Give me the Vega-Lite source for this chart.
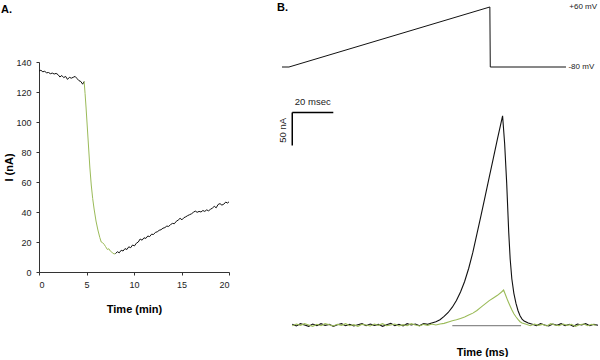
{
  "$schema": "https://vega.github.io/schema/vega-lite/v6.json",
  "background": "white",
  "padding": {"left": 1, "top": 2, "right": 0, "bottom": 0},
  "spacing": 46,
  "config": {
    "view": {"stroke": null},
    "font": "Liberation Sans",
    "axis": {
      "grid": false,
      "domainColor": "#333333",
      "tickColor": "#333333",
      "tickSize": 3,
      "labelFont": "Liberation Sans Narrow, Liberation Sans, Arial",
      "labelFontSize": 9,
      "labelColor": "#222222",
      "titleFont": "Liberation Sans, Arial",
      "titleFontSize": 11,
      "titleFontWeight": "bold",
      "titleColor": "#000000"
    }
  },
  "datasets": {
    "panelA": [
      {"t":0,"v":134,"seg":"pre"},{"t":0.2,"v":134.5,"seg":"pre"},{"t":0.4,"v":133.5,"seg":"pre"},{"t":0.6,"v":133.8,"seg":"pre"},{"t":0.8,"v":132.8,"seg":"pre"},{"t":1.0,"v":133,"seg":"pre"},{"t":1.2,"v":132.2,"seg":"pre"},{"t":1.4,"v":132.6,"seg":"pre"},{"t":1.6,"v":132,"seg":"pre"},{"t":1.8,"v":132.4,"seg":"pre"},{"t":2.0,"v":131.6,"seg":"pre"},{"t":2.2,"v":130,"seg":"pre"},{"t":2.4,"v":131,"seg":"pre"},{"t":2.6,"v":129.6,"seg":"pre"},{"t":2.8,"v":130.4,"seg":"pre"},{"t":3.0,"v":128.4,"seg":"pre"},{"t":3.2,"v":129.8,"seg":"pre"},{"t":3.4,"v":129.2,"seg":"pre"},{"t":3.6,"v":129.8,"seg":"pre"},{"t":3.8,"v":130.4,"seg":"pre"},{"t":4.0,"v":129,"seg":"pre"},{"t":4.2,"v":127.6,"seg":"pre"},{"t":4.4,"v":127,"seg":"pre"},{"t":4.6,"v":125.2,"seg":"pre"},{"t":4.75,"v":127,"seg":"pre"},
      {"t":4.75,"v":127,"seg":"drop"},{"t":4.85,"v":119,"seg":"drop"},{"t":4.95,"v":110,"seg":"drop"},{"t":5.05,"v":100,"seg":"drop"},{"t":5.15,"v":90,"seg":"drop"},{"t":5.25,"v":80,"seg":"drop"},{"t":5.35,"v":70,"seg":"drop"},{"t":5.5,"v":58,"seg":"drop"},{"t":5.65,"v":49,"seg":"drop"},{"t":5.8,"v":42,"seg":"drop"},{"t":6.0,"v":34,"seg":"drop"},{"t":6.2,"v":28,"seg":"drop"},{"t":6.4,"v":23,"seg":"drop"},{"t":6.55,"v":20,"seg":"drop"},{"t":6.7,"v":19.5,"seg":"drop"},{"t":6.85,"v":18.5,"seg":"drop"},{"t":7.0,"v":17,"seg":"drop"},{"t":7.2,"v":15,"seg":"drop"},{"t":7.35,"v":15.5,"seg":"drop"},{"t":7.5,"v":14,"seg":"drop"},{"t":7.7,"v":13,"seg":"drop"},{"t":7.9,"v":12,"seg":"drop"},{"t":8.05,"v":12.3,"seg":"drop"},
      {"t":8.05,"v":12.3,"seg":"post"},{"t":8.25,"v":13.5,"seg":"post"},{"t":8.45,"v":12.8,"seg":"post"},{"t":8.65,"v":14.5,"seg":"post"},{"t":8.85,"v":14,"seg":"post"},{"t":9.05,"v":15.6,"seg":"post"},{"t":9.25,"v":15,"seg":"post"},{"t":9.45,"v":16.8,"seg":"post"},{"t":9.65,"v":16.2,"seg":"post"},{"t":9.85,"v":18,"seg":"post"},{"t":10.05,"v":17.4,"seg":"post"},{"t":10.25,"v":19.2,"seg":"post"},{"t":10.45,"v":20,"seg":"post"},{"t":10.65,"v":22,"seg":"post"},{"t":10.85,"v":21.2,"seg":"post"},{"t":11.05,"v":22.8,"seg":"post"},{"t":11.25,"v":22.4,"seg":"post"},{"t":11.45,"v":24,"seg":"post"},{"t":11.65,"v":23.6,"seg":"post"},{"t":11.85,"v":25.2,"seg":"post"},{"t":12.05,"v":25,"seg":"post"},{"t":12.25,"v":26.4,"seg":"post"},{"t":12.45,"v":26.8,"seg":"post"},{"t":12.65,"v":27.8,"seg":"post"},{"t":12.85,"v":28.2,"seg":"post"},{"t":13.05,"v":29.2,"seg":"post"},{"t":13.25,"v":29.6,"seg":"post"},{"t":13.45,"v":30.6,"seg":"post"},{"t":13.65,"v":30.4,"seg":"post"},{"t":13.85,"v":31.6,"seg":"post"},{"t":14.05,"v":32.4,"seg":"post"},{"t":14.25,"v":32.2,"seg":"post"},{"t":14.45,"v":33.8,"seg":"post"},{"t":14.65,"v":34.6,"seg":"post"},{"t":14.85,"v":35.8,"seg":"post"},{"t":15.05,"v":34.8,"seg":"post"},{"t":15.25,"v":36.2,"seg":"post"},{"t":15.45,"v":36.8,"seg":"post"},{"t":15.65,"v":37.6,"seg":"post"},{"t":15.85,"v":38.2,"seg":"post"},{"t":16.05,"v":38.8,"seg":"post"},{"t":16.25,"v":39.8,"seg":"post"},{"t":16.45,"v":40.6,"seg":"post"},{"t":16.65,"v":39.8,"seg":"post"},{"t":16.85,"v":40.4,"seg":"post"},{"t":17.05,"v":40,"seg":"post"},{"t":17.25,"v":41,"seg":"post"},{"t":17.45,"v":40.4,"seg":"post"},{"t":17.65,"v":41.4,"seg":"post"},{"t":17.85,"v":40.8,"seg":"post"},{"t":18.05,"v":41.8,"seg":"post"},{"t":18.25,"v":42.6,"seg":"post"},{"t":18.45,"v":43.8,"seg":"post"},{"t":18.65,"v":42.8,"seg":"post"},{"t":18.85,"v":45,"seg":"post"},{"t":19.05,"v":45.6,"seg":"post"},{"t":19.25,"v":44.6,"seg":"post"},{"t":19.45,"v":45.2,"seg":"post"},{"t":19.65,"v":46.6,"seg":"post"},{"t":19.85,"v":46,"seg":"post"},{"t":20,"v":46.8,"seg":"post"}
    ],
    "ramp": [
      {"t":-5,"v":-80},{"t":-1.6,"v":-80},{"t":96.3,"v":60},{"t":96.5,"v":-80},{"t":133.4,"v":-80}
    ],
    "rampLabels": [
      {"t":135.0,"v":60,"label":"+60 mV"},{"t":134.6,"v":-80,"label":"-80 mV"}
    ],
    "panelLetter": [
      {"t":-7.4,"v":71.5,"label":"B."}
    ],
    "scaleBar": [
      {"t":0,"t2":20,"v":322,"v2":322},{"t":0,"t2":0,"v":272,"v2":322}
    ],
    "barTime": [{"t":10,"v":338,"label":"20 msec"}],
    "barCurrent": [{"t":-4.5,"v":295,"label":"50 nA"}],
    "zeroLine": [{"t":78,"t2":111.5,"v":-0.8}],
    "currents": [
      {"s":"k","t":0,"v":1},{"s":"k","t":2,"v":-1.5},{"s":"k","t":4,"v":2},{"s":"k","t":6,"v":0},{"s":"k","t":8,"v":-2},{"s":"k","t":10,"v":1.5},{"s":"k","t":12,"v":-1},{"s":"k","t":14,"v":2},{"s":"k","t":16,"v":-0.5},{"s":"k","t":18,"v":1},{"s":"k","t":20,"v":-2},{"s":"k","t":22,"v":0.5},{"s":"k","t":24,"v":2},{"s":"k","t":26,"v":-1},{"s":"k","t":28,"v":1},{"s":"k","t":30,"v":-1.5},{"s":"k","t":32,"v":0.5},{"s":"k","t":34,"v":2},{"s":"k","t":36,"v":-1},{"s":"k","t":38,"v":1.5},{"s":"k","t":40,"v":-0.5},{"s":"k","t":42,"v":1},{"s":"k","t":44,"v":-2},{"s":"k","t":46,"v":0.5},{"s":"k","t":48,"v":2.5},{"s":"k","t":50,"v":-1},{"s":"k","t":52,"v":1},{"s":"k","t":54,"v":-1.5},{"s":"k","t":56,"v":2},{"s":"k","t":58,"v":0},{"s":"k","t":60,"v":1.5},{"s":"k","t":62,"v":-1},{"s":"k","t":64,"v":2},{"s":"k","t":66,"v":1},{"s":"k","t":68,"v":3},{"s":"k","t":70,"v":5},{"s":"k","t":72,"v":8},{"s":"k","t":74,"v":13},{"s":"k","t":76,"v":19},{"s":"k","t":78,"v":27},{"s":"k","t":80,"v":37},{"s":"k","t":82,"v":50},{"s":"k","t":84,"v":66},{"s":"k","t":86,"v":86},{"s":"k","t":88,"v":110},{"s":"k","t":90,"v":138},{"s":"k","t":92,"v":166},{"s":"k","t":94,"v":195},{"s":"k","t":96,"v":224},{"s":"k","t":98,"v":253},{"s":"k","t":100,"v":282},{"s":"k","t":102.5,"v":317},{"s":"k","t":103.5,"v":275},{"s":"k","t":104.5,"v":215},{"s":"k","t":105.5,"v":140},{"s":"k","t":106.2,"v":100},{"s":"k","t":107,"v":70},{"s":"k","t":108,"v":48},{"s":"k","t":109,"v":33},{"s":"k","t":110,"v":22},{"s":"k","t":111,"v":14},{"s":"k","t":112,"v":9},{"s":"k","t":113,"v":6},{"s":"k","t":115,"v":3},{"s":"k","t":117,"v":1},{"s":"k","t":119,"v":-1},{"s":"k","t":121,"v":2},{"s":"k","t":123,"v":0},{"s":"k","t":125,"v":-1.5},{"s":"k","t":127,"v":1.5},{"s":"k","t":129,"v":-0.5},{"s":"k","t":131,"v":2},{"s":"k","t":133,"v":-1},{"s":"k","t":135,"v":1},{"s":"k","t":137,"v":-2},{"s":"k","t":139,"v":1.5},{"s":"k","t":141,"v":0},{"s":"k","t":143,"v":2},{"s":"k","t":145,"v":-1},{"s":"k","t":147,"v":1},{"s":"k","t":149,"v":-0.5},
      {"s":"g","t":0,"v":-1},{"s":"g","t":2,"v":1.5},{"s":"g","t":4,"v":-0.5},{"s":"g","t":6,"v":2},{"s":"g","t":8,"v":0},{"s":"g","t":10,"v":-2},{"s":"g","t":12,"v":1},{"s":"g","t":14,"v":-1},{"s":"g","t":16,"v":2},{"s":"g","t":18,"v":0.5},{"s":"g","t":20,"v":-1.5},{"s":"g","t":22,"v":1},{"s":"g","t":24,"v":-0.5},{"s":"g","t":26,"v":2},{"s":"g","t":28,"v":-1},{"s":"g","t":30,"v":0.5},{"s":"g","t":32,"v":-2},{"s":"g","t":34,"v":1},{"s":"g","t":36,"v":0},{"s":"g","t":38,"v":-1.5},{"s":"g","t":40,"v":1.5},{"s":"g","t":42,"v":-0.5},{"s":"g","t":44,"v":2},{"s":"g","t":46,"v":-1},{"s":"g","t":48,"v":0},{"s":"g","t":50,"v":1.5},{"s":"g","t":52,"v":-1.5},{"s":"g","t":54,"v":0.5},{"s":"g","t":56,"v":-1},{"s":"g","t":58,"v":2},{"s":"g","t":60,"v":0},{"s":"g","t":62,"v":-1.5},{"s":"g","t":64,"v":1},{"s":"g","t":66,"v":-0.5},{"s":"g","t":68,"v":1.5},{"s":"g","t":70,"v":0},{"s":"g","t":72,"v":1.5},{"s":"g","t":74,"v":2.5},{"s":"g","t":76.5,"v":5},{"s":"g","t":78,"v":6.5},{"s":"g","t":80,"v":8},{"s":"g","t":82,"v":10},{"s":"g","t":84,"v":12},{"s":"g","t":86,"v":15},{"s":"g","t":88,"v":18},{"s":"g","t":90,"v":22},{"s":"g","t":92,"v":27},{"s":"g","t":94,"v":32},{"s":"g","t":96,"v":37},{"s":"g","t":98,"v":41},{"s":"g","t":100,"v":45},{"s":"g","t":102,"v":50},{"s":"g","t":103,"v":53},{"s":"g","t":104,"v":45},{"s":"g","t":105,"v":37},{"s":"g","t":106,"v":30},{"s":"g","t":107,"v":23},{"s":"g","t":108,"v":17},{"s":"g","t":109,"v":12.5},{"s":"g","t":110,"v":8.5},{"s":"g","t":111,"v":5},{"s":"g","t":112,"v":3},{"s":"g","t":114,"v":1},{"s":"g","t":116,"v":-1},{"s":"g","t":118,"v":1.5},{"s":"g","t":120,"v":-0.5},{"s":"g","t":122,"v":1},{"s":"g","t":124,"v":-1.5},{"s":"g","t":126,"v":2},{"s":"g","t":128,"v":0},{"s":"g","t":130,"v":-1},{"s":"g","t":132,"v":1.5},{"s":"g","t":134,"v":-0.5},{"s":"g","t":136,"v":1},{"s":"g","t":138,"v":-2},{"s":"g","t":140,"v":0.5},{"s":"g","t":142,"v":1.5},{"s":"g","t":144,"v":-1},{"s":"g","t":146,"v":1},{"s":"g","t":148,"v":-0.5}
    ]
  },
  "hconcat": [
    {
      "width": 190,
      "height": 210,
      "title": {"text": "A.", "anchor": "start", "frame": "group", "dx": -38, "offset": 43, "fontSize": 11, "fontWeight": "bold", "font": "Liberation Sans, Arial", "color": "#000000"},
      "data": {"name": "panelA"},
      "mark": {"type": "line", "strokeWidth": 1},
      "encoding": {
        "x": {"field": "t", "type": "quantitative", "scale": {"domain": [0, 20], "nice": false},
              "axis": {"values": [0, 5, 10, 15, 20], "title": "Time (min)", "labelPadding": 5, "titlePadding": 14}},
        "y": {"field": "v", "type": "quantitative", "scale": {"domain": [0, 140], "nice": false},
              "axis": {"values": [0, 20, 40, 60, 80, 100, 120, 140], "title": "I (nA)", "labelPadding": 5, "titlePadding": 1}},
        "color": {"field": "seg", "type": "nominal", "scale": {"domain": ["pre", "drop", "post"], "range": ["#111111", "#9bbb59", "#111111"]}, "legend": null}
      }
    },
    {
      "width": 316,
      "height": 270,
      "encoding": {
        "x": {"field": "t", "type": "quantitative", "scale": {"domain": [-5, 149], "nice": false, "zero": false},
              "axis": {"title": "Time (ms)", "domain": false, "ticks": false, "labels": false, "titlePadding": 14, "titleX": 200}}
      },
      "layer": [
        {
          "data": {"name": "ramp"},
          "mark": {"type": "line", "color": "#111111", "strokeWidth": 1},
          "encoding": {"y": {"field": "v", "type": "quantitative", "scale": {"domain": [-698.3, -68.33], "nice": false, "zero": false}, "axis": null}}
        },
        {
          "data": {"name": "rampLabels"},
          "mark": {"type": "text", "align": "left", "baseline": "middle", "fontSize": 8, "font": "Liberation Sans Narrow, Liberation Sans, Arial", "color": "#222222"},
          "encoding": {"y": {"field": "v", "type": "quantitative", "scale": {"domain": [-698.3, -68.33], "nice": false, "zero": false}, "axis": null}, "text": {"field": "label"}}
        },
        {
          "data": {"name": "panelLetter"},
          "mark": {"type": "text", "align": "left", "baseline": "top", "fontSize": 11, "fontWeight": "bold", "font": "Liberation Sans, Arial", "color": "#000000"},
          "encoding": {"y": {"field": "v", "type": "quantitative", "scale": {"domain": [-698.3, -68.33], "nice": false, "zero": false}, "axis": null}, "text": {"field": "label"}}
        },
        {
          "data": {"name": "scaleBar"},
          "mark": {"type": "rule", "color": "#000000", "strokeWidth": 1.5},
          "encoding": {"x2": {"field": "t2"}, "y": {"field": "v", "type": "quantitative", "scale": {"domain": [-10.6, 398.5], "nice": false, "zero": false}, "axis": null}, "y2": {"field": "v2"}}
        },
        {
          "data": {"name": "barTime"},
          "mark": {"type": "text", "align": "center", "baseline": "middle", "fontSize": 9.5, "font": "Liberation Sans Narrow, Liberation Sans, Arial", "color": "#222222"},
          "encoding": {"y": {"field": "v", "type": "quantitative", "scale": {"domain": [-10.6, 398.5], "nice": false, "zero": false}, "axis": null}, "text": {"field": "label"}}
        },
        {
          "data": {"name": "barCurrent"},
          "mark": {"type": "text", "align": "center", "baseline": "middle", "angle": 270, "fontSize": 9.5, "font": "Liberation Sans Narrow, Liberation Sans, Arial", "color": "#222222"},
          "encoding": {"y": {"field": "v", "type": "quantitative", "scale": {"domain": [-10.6, 398.5], "nice": false, "zero": false}, "axis": null}, "text": {"field": "label"}}
        },
        {
          "data": {"name": "currents"},
          "mark": {"type": "line", "strokeWidth": 1.1},
          "encoding": {
            "y": {"field": "v", "type": "quantitative", "scale": {"domain": [-10.6, 398.5], "nice": false, "zero": false}, "axis": null},
            "color": {"field": "s", "type": "nominal", "scale": {"domain": ["k", "g"], "range": ["#111111", "#9bbb59"]}, "legend": null}
          }
        },
        {
          "data": {"name": "zeroLine"},
          "mark": {"type": "rule", "color": "#8c8c8c", "strokeWidth": 1.2},
          "encoding": {"x2": {"field": "t2"}, "y": {"field": "v", "type": "quantitative", "scale": {"domain": [-10.6, 398.5], "nice": false, "zero": false}, "axis": null}}
        }
      ],
      "resolve": {"scale": {"y": "independent"}}
    }
  ]
}
